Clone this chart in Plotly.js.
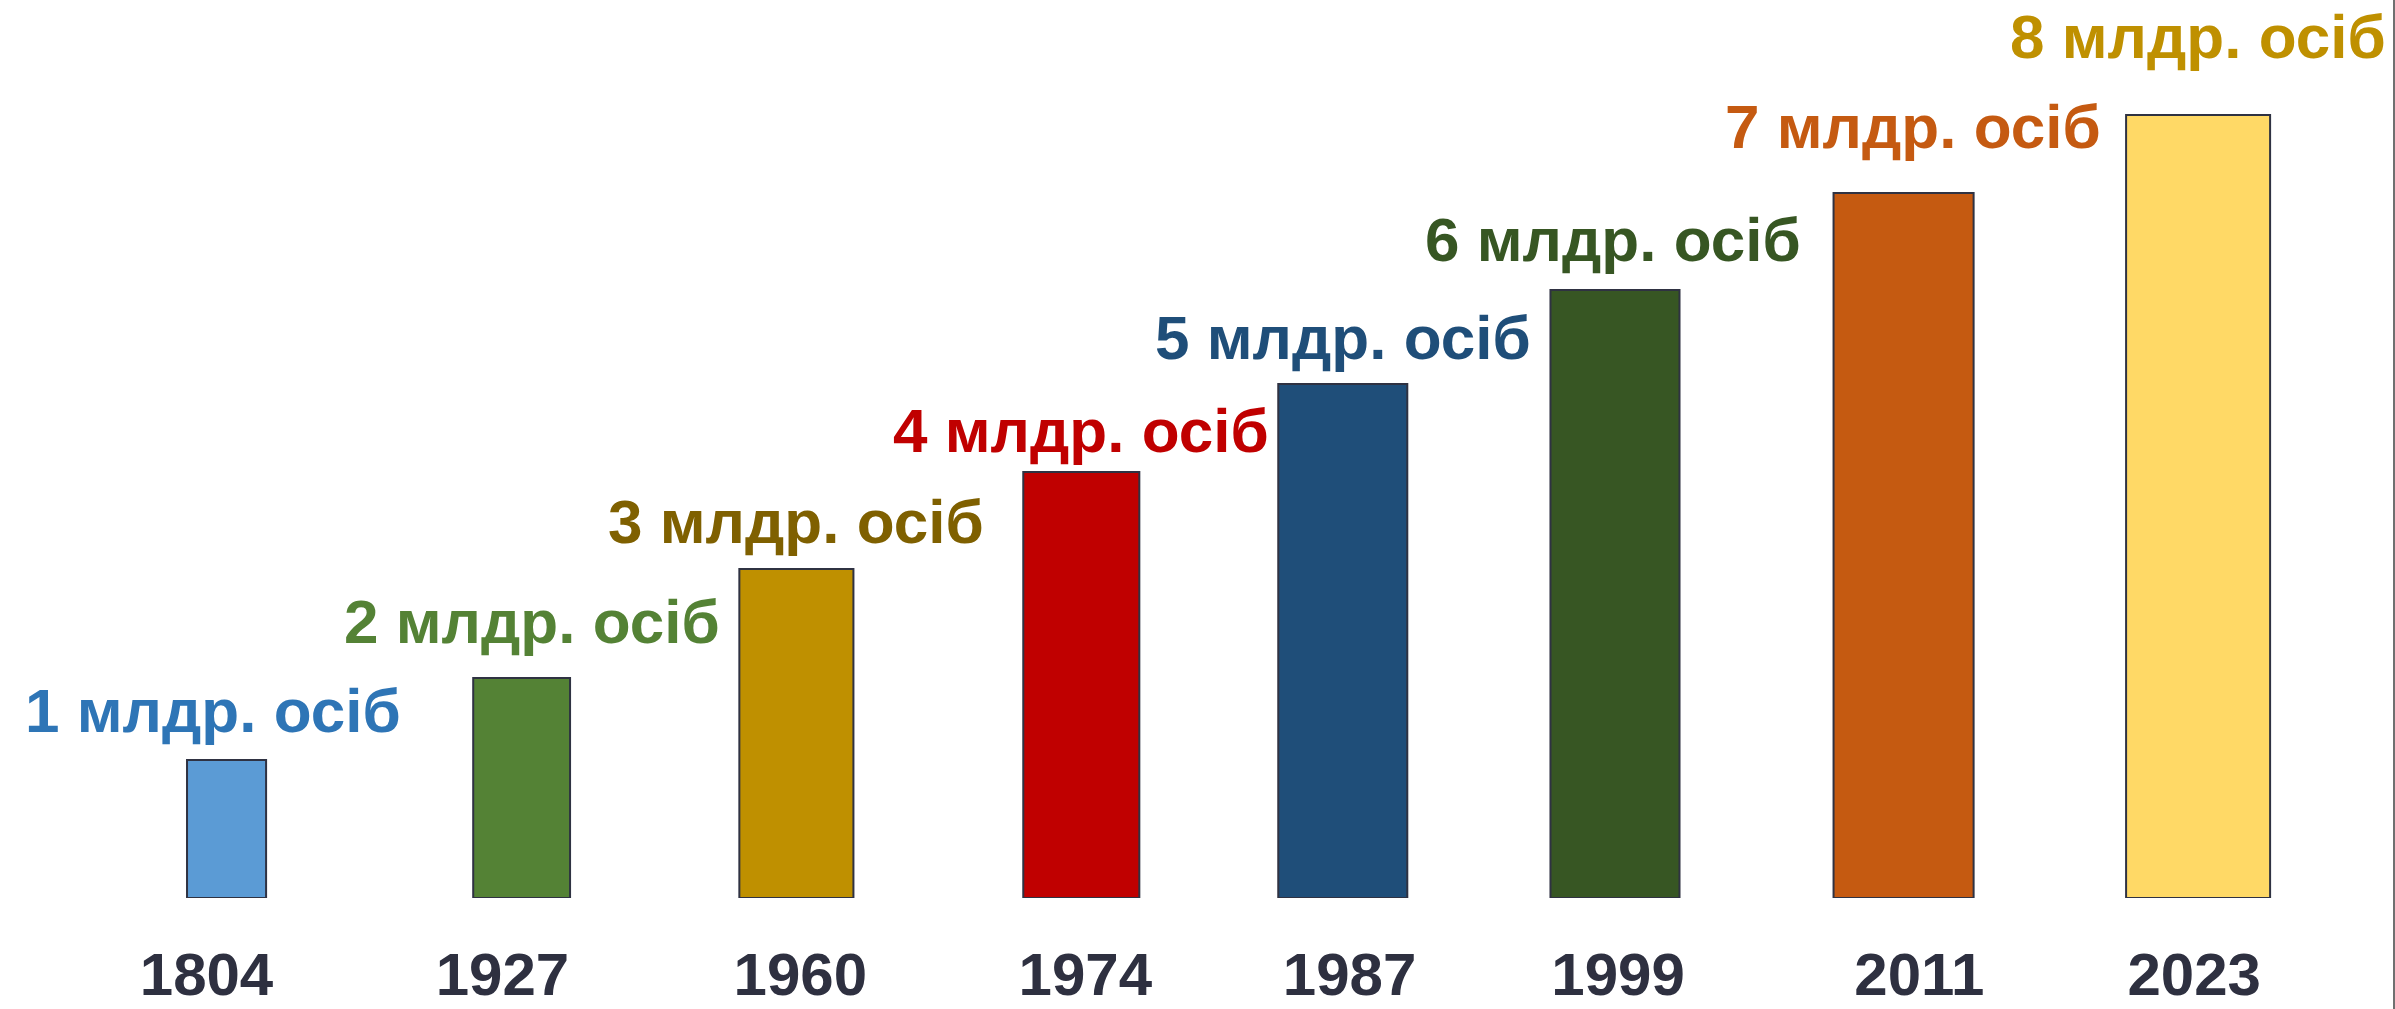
<!DOCTYPE html>
<html>
<head>
<meta charset="utf-8">
<script src="https://cdn.plot.ly/plotly-3.0.1.min.js"></script>
<style>
  html, body { margin: 0; padding: 0; background: #ffffff; overflow: hidden; }
  #chart { width: 2393px; height: 1009px; border-right: 2px solid #707070; }
</style>
</head>
<body>
<div id="chart"></div>
<script>
// ---- data ----
const years = ["1804", "1927", "1960", "1974", "1987", "1999", "2011", "2023"];
const populationBn = [1, 2, 3, 4, 5, 6, 7, 8];
// drawn bar heights in the graphic (arbitrary units, not proportional to population)
const barHeight = [138, 220, 329, 426, 514, 608, 705, 783];
const labelUnit = "млдр. осіб";

// ---- styles ----
const barColors   = ["#5B9BD5", "#548235", "#BF9000", "#C00000", "#1F4E79", "#375623", "#C55A11", "#FFD966"];
const labelColors = ["#2E75B6", "#548235", "#7F6000", "#C00000", "#1F4E79", "#375623", "#C55A11", "#BF9000"];
const barWidths   = [0.280, 0.343, 0.404, 0.411, 0.457, 0.457, 0.496, 0.510];
const barShift    = [0.019, 0.064, 0.037, 0.046, -0.028, -0.064, -0.042, 0.001];
const tickShift   = [-0.052, -0.004, 0.051, 0.060, -0.004, -0.053, 0.014, -0.013];
const labelGap    = [27, 34, 25, 19, 24, 28, 44, 56];
const labelXShift = [-14, 10, 0, 0, 0, -2, 9, 0];

const trace = {
  type: "bar",
  x: years,
  y: barHeight,
  width: barWidths,
  offset: barWidths.map((w, i) => -w / 2 + barShift[i]),
  marker: { color: barColors, line: { color: "#2F3242", width: 2 } },
  hoverinfo: "skip"
};

const annotations = years.map((yr, i) => ({
  x: i + barShift[i],
  y: barHeight[i],
  xref: "x", yref: "y",
  text: "<b>" + populationBn[i] + " " + labelUnit + "</b>",
  showarrow: false,
  xanchor: "center",
  yanchor: "bottom",
  xshift: labelXShift[i],
  yshift: labelGap[i] - 14,
  font: { family: "Liberation Sans, Arial, sans-serif", size: 62, color: labelColors[i] }
}));

const layout = {
  width: 2393,
  height: 1009,
  margin: { l: 80, r: 54, t: 0, b: 111, pad: 0 },
  paper_bgcolor: "#ffffff",
  plot_bgcolor: "#ffffff",
  showlegend: false,
  bargap: 0,
  xaxis: {
    type: "category",
    range: [-0.5, 7.5],
    showgrid: false, zeroline: false, showline: false,
    ticks: "",
    tickmode: "array",
    tickvals: years.map((y, i) => i + tickShift[i]),
    ticktext: years,
    ticklabelstandoff: 36,
    tickfont: { family: "Liberation Sans, Arial, sans-serif", size: 60, color: "#2E3040", weight: "bold" }
  },
  yaxis: {
    range: [0, 898],
    visible: false,
    showgrid: false, zeroline: false
  },
  annotations: annotations
};

Plotly.newPlot("chart", [trace], layout, { displayModeBar: false, staticPlot: true });
</script>
</body>
</html>
